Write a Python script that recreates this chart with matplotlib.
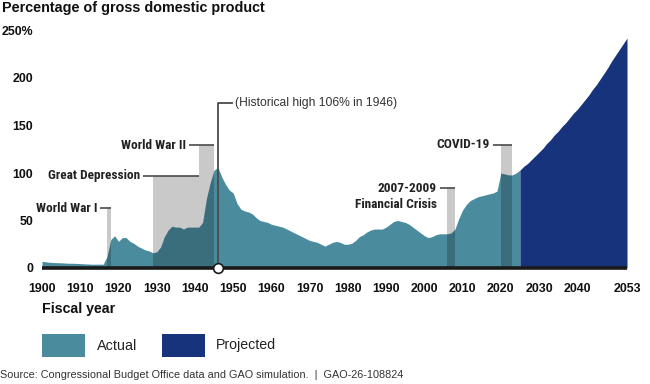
import matplotlib
matplotlib.use("Agg")
import matplotlib.pyplot as plt
from matplotlib import font_manager
from matplotlib.patches import Rectangle

# ---------------- data ----------------
actual_years = list(range(1900, 2026))
actual_values = [
    7, 6.5, 6, 5.8, 5.6, 5.5, 5.2, 5, 5, 4.8,            # 1900-1909
    4.6, 4.4, 4.2, 4, 4, 4, 4, 12, 30, 34,               # 1910-1919
    28, 32, 32, 28, 26, 23, 21, 19, 18, 16,              # 1920-1929
    17, 22, 33, 40, 44, 43, 43, 41, 43, 43,              # 1930-1939
    43, 43, 48, 73, 90, 103, 106, 96, 88, 82,            # 1940-1949
    79, 68, 62, 60, 59, 57, 53, 50, 49, 48,              # 1950-1959
    46, 45, 44, 43, 41, 39, 37, 35, 33, 31,              # 1960-1969
    29, 28, 27, 25, 23, 25, 27, 28, 27, 25,              # 1970-1979
    25, 26, 29, 33, 35, 38, 40, 41, 41, 41,              # 1980-1989
    43, 46, 49, 50, 49, 48, 46, 43, 40, 37,              # 1990-1999
    34, 32, 33, 35, 36, 36, 36, 37, 41, 52,              # 2000-2009
    61, 67, 71, 73, 75, 76, 77, 78, 79, 81,              # 2010-2019
    100, 99, 98, 98, 100, 103,                           # 2020-2025
]
projected_years = list(range(2025, 2054))
projected_values = [
    103, 107, 110, 114, 118, 122, 126, 131, 135, 140,    # 2025-2034
    144, 149, 153, 158, 163, 167, 172, 177, 182, 188,    # 2035-2044
    193, 199, 205, 211, 218, 224, 230, 236, 242,         # 2045-2053
]

event_labels = ["World War I", "Great Depression", "World War II",
                "2007-2009\nFinancial Crisis", "COVID-19"]
event_starts = [1917, 1929, 1941, 2006, 2020]
event_ends = [1918, 1941, 1945, 2008, 2023]
event_heights = [63, 97, 129, 84, 130]

peak_year = 1946
peak_label = "(Historical high 106% in 1946)"

x_ticks = [1900, 1910, 1920, 1930, 1940, 1950, 1960, 1970, 1980, 1990,
           2000, 2010, 2020, 2030, 2040, 2053]
y_ticks = [0, 50, 100, 150, 200, 250]
y_tick_labels = ["0", "50", "100", "150", "200", "250%"]

legend_labels = ["Actual", "Projected"]
title = "Percentage of gross domestic product"
xlabel = "Fiscal year"
source = "Source: Congressional Budget Office data and GAO simulation.  |  GAO-26-108824"

# ---------------- style ----------------
TEAL = "#4a8c9e"
NAVY = "#16337b"
LINE = "#4a4a4a"

names = {f.name for f in font_manager.fontManager.ttflist}


def pick(cands):
    for c in cands:
        if c in names:
            return c
    return "DejaVu Sans"


SANS = pick(["Liberation Sans", "Arial", "DejaVu Sans"])
NARROW = pick(["Roboto Condensed", "Liberation Sans Narrow", "Arial Narrow", SANS])
REGN = pick(["Liberation Sans Narrow", "Arial Narrow", SANS])

W, H = 650, 384
fig = plt.figure(figsize=(W / 100, H / 100), dpi=100)
fig.patch.set_facecolor("white")


def fx(px):
    return px / W


def fy(py):
    return 1 - py / H


ax = fig.add_axes([fx(42), fy(268), fx(627) - fx(42), fy(30.5) - fy(268)])
ax.set_xlim(1900, 2053)
ax.set_ylim(0, 250)
for s in ax.spines.values():
    s.set_visible(False)
ax.patch.set_alpha(0)

ax.fill_between(actual_years, actual_values, 0, color=TEAL, lw=0, zorder=2)
ax.fill_between(projected_years, projected_values, 0, color=NAVY, lw=0, zorder=2)

# event bars (translucent so the area below shows darker)
ax.bar(event_starts, event_heights,
       width=[e - s for s, e in zip(event_starts, event_ends)],
       align="edge", color="black", alpha=0.21, lw=0, zorder=3)

renderer = fig.canvas.get_renderer()


def fit(t, target_px):
    w = t.get_window_extent(renderer).width
    if w > 0:
        t.set_fontsize(t.get_fontsize() * target_px / w)


def yr(px):
    return 1900 + (px - 42) * 153 / 585


def val(py):
    return (268 - py) / 0.95


# event labels share one font size, sized from the long labels
probe = ax.text(0, 0, "Great Depression", fontsize=9, fontweight="bold",
                family=NARROW)
fit(probe, 92)
EV_SIZE = probe.get_fontsize()
probe.remove()

label_right = [97, 140, 186, 437, 490]
for lab, s, e, h, rpx in zip(event_labels, event_starts, event_ends,
                             event_heights, label_right):
    ax.plot([yr(rpx + 3), e], [h, h], color=LINE, lw=1.2, zorder=4,
            solid_capstyle="butt")
    lines = lab.split("\n")
    for i, ln in enumerate(lines):
        ax.text(yr(rpx), h - 17 * i, ln, ha="right", va="center",
                fontsize=EV_SIZE, fontweight="bold", family=NARROW,
                color="#222222")

# historical high callout
hh = val(103)
ax.plot([peak_year, peak_year, yr(232)], [0, hh, hh], color=LINE, lw=1.3,
        zorder=5, clip_on=False)
th = ax.text(yr(235), hh, peak_label, ha="left", va="center", fontsize=8.5,
             family=SANS, color="#333333")
fit(th, 162)

# baseline
ax.plot([1900, 2053], [0, 0], color="#1a1a1a", lw=2.6, zorder=6,
        solid_capstyle="butt", clip_on=False)
ax.plot([peak_year], [0], marker="o", ms=7, mfc="white", mec="#1a1a1a",
        mew=1.2, zorder=7, clip_on=False)

ax.set_xticks(x_ticks)
ax.set_xticklabels([str(x) for x in x_ticks], fontsize=8.9, fontweight="bold",
                   family=SANS, color="#111111")
ax.set_yticks(y_ticks)
ax.set_yticklabels(y_tick_labels, fontsize=8.9, fontweight="bold",
                   family=SANS, color="#111111")
ax.tick_params(axis="x", length=0, pad=11)
ax.tick_params(axis="y", length=0, pad=6.5)

# title
tt = fig.text(fx(2), fy(12), title, ha="left", va="baseline", fontsize=10.3,
              fontweight="bold", family=SANS, color="#111111")
fit(tt, 261)

tx = fig.text(fx(42), fy(313), xlabel, ha="left", va="baseline", fontsize=10,
              fontweight="bold", family=SANS, color="#111111")
fit(tx, 73)

# legend
for (x0, x1), col, lab, tpx, twd in zip([(42, 85), (162, 205)], [TEAL, NAVY],
                                        legend_labels, [97, 216], [40, 60]):
    fig.patches.append(Rectangle((fx(x0), fy(357)), fx(x1) - fx(x0),
                                 fy(334) - fy(357), transform=fig.transFigure,
                                 facecolor=col, edgecolor="none"))
    tl = fig.text(fx(tpx), fy(345.5), lab, ha="left", va="center", fontsize=10,
                  family=REGN, color="#222222")
    fit(tl, twd)

ts = fig.text(fx(0), fy(375), source, ha="left", va="center", fontsize=7.5,
              family=REGN, color="#333333")
fit(ts, 401)

fig.savefig("out.png", dpi=100, facecolor="white")
